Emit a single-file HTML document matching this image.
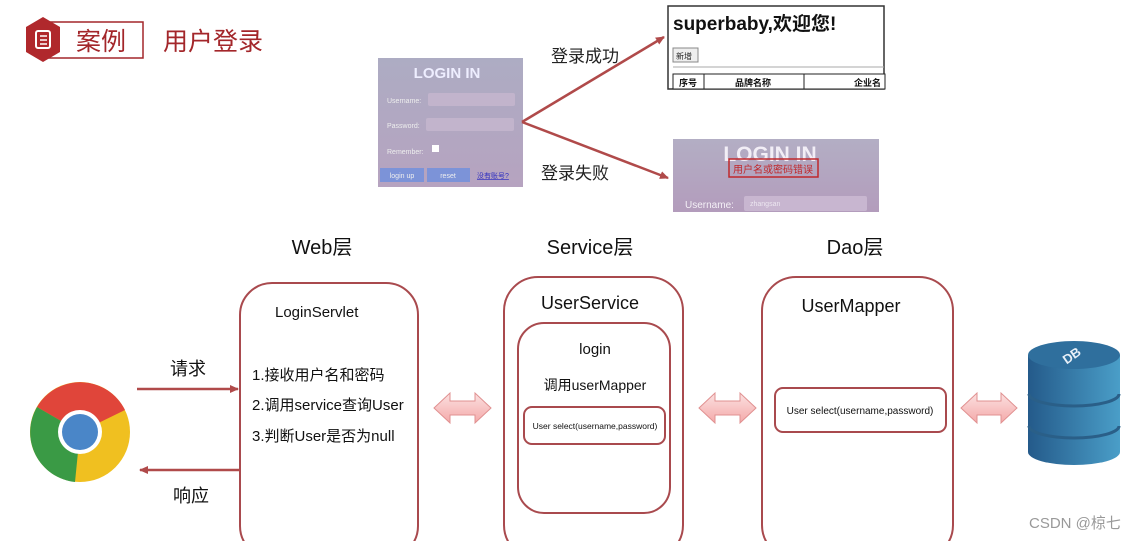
<!DOCTYPE html>
<html><head><meta charset="utf-8"><style>
html,body{margin:0;padding:0;background:#fff;width:1129px;height:541px;overflow:hidden}
svg{display:block;font-family:"Liberation Sans","Noto Sans CJK SC",sans-serif}
</style></head><body>
<svg width="1129" height="541" viewBox="0 0 1129 541" xmlns="http://www.w3.org/2000/svg">
<defs>
<linearGradient id="lg" x1="0" y1="0" x2="0" y2="1"><stop offset="0" stop-color="#adacc3"/><stop offset="1" stop-color="#b6a3c0"/></linearGradient>
<linearGradient id="lg2" x1="0" y1="0" x2="0" y2="1"><stop offset="0" stop-color="#b3aec4"/><stop offset="1" stop-color="#b39cbc"/></linearGradient>
<linearGradient id="pk" x1="0" y1="0" x2="0" y2="1"><stop offset="0" stop-color="#fbe1e1"/><stop offset="1" stop-color="#f4a9a9"/></linearGradient>
<linearGradient id="db" x1="0" y1="0" x2="1" y2="0"><stop offset="0" stop-color="#245a8a"/><stop offset="1" stop-color="#4a9ec8"/></linearGradient>
<marker id="ar" markerWidth="10" markerHeight="10" refX="8" refY="5" orient="auto" markerUnits="userSpaceOnUse"><path d="M0,1 L9,5 L0,9 Z" fill="#b04a4a"/></marker>
</defs>
<rect x="48" y="22" width="95" height="36" fill="#fff" stroke="#a3262a" stroke-width="1.5"/>
<polygon points="43,17 60,27 60,52 43,62 26,52 26,27" fill="#b0282c"/>
<rect x="36" y="31" width="14" height="17" rx="2" fill="none" stroke="#fff" stroke-width="2"/>
<line x1="40" y1="36" x2="47" y2="36" stroke="#fff" stroke-width="1.5"/><line x1="40" y1="40" x2="47" y2="40" stroke="#fff" stroke-width="1.5"/><line x1="40" y1="44" x2="47" y2="44" stroke="#fff" stroke-width="1.5"/>
<text x="76" y="50" font-size="25" fill="#a3262a">案例</text>
<text x="163" y="50" font-size="25" fill="#a3262a">用户登录</text>
<rect x="378" y="58" width="145" height="129" fill="url(#lg)"/>
<text x="447" y="78" font-size="15" font-weight="bold" fill="#eef" text-anchor="middle">LOGIN IN</text>
<text x="387" y="103" font-size="7" fill="#eee">Username:</text>
<rect x="428" y="93" width="87" height="13" rx="2" fill="#c2b4cc"/>
<text x="387" y="128" font-size="7" fill="#eee">Password:</text>
<rect x="426" y="118" width="88" height="13" rx="2" fill="#c2b4cc"/>
<text x="387" y="154" font-size="7" fill="#eee">Remember:</text>
<rect x="432" y="145" width="7" height="7" fill="#fff"/>
<rect x="380" y="168" width="44" height="14" fill="#7c93d8"/><text x="402" y="178" font-size="7" fill="#eee" text-anchor="middle">login up</text>
<rect x="427" y="168" width="43" height="14" fill="#7c93d8"/><text x="448" y="178" font-size="7" fill="#eee" text-anchor="middle">reset</text>
<text x="477" y="178" font-size="7" fill="#3030c0" text-decoration="underline">没有账号?</text>
<line x1="522" y1="122" x2="664" y2="37" stroke="#b04a4a" stroke-width="2.5" marker-end="url(#ar)"/>
<line x1="522" y1="122" x2="668" y2="178" stroke="#b04a4a" stroke-width="2.5" marker-end="url(#ar)"/>
<text x="551" y="62" font-size="17" fill="#222">登录成功</text>
<text x="541" y="179" font-size="17" fill="#222">登录失败</text>
<rect x="668" y="6" width="216" height="83" fill="#fff" stroke="#333" stroke-width="1.5"/>
<text x="673" y="30" font-size="19" font-weight="bold" fill="#111">superbaby,欢迎您!</text>
<rect x="673" y="48" width="25" height="14" fill="#eee" stroke="#888"/><text x="676" y="59" font-size="8" fill="#222">新增</text>
<line x1="673" y1="67" x2="884" y2="67" stroke="#aaa"/>
<rect x="673" y="74" width="212" height="15" fill="#fff" stroke="#222"/>
<line x1="704" y1="74" x2="704" y2="89" stroke="#222"/><line x1="804" y1="74" x2="804" y2="89" stroke="#222"/>
<text x="679" y="86" font-size="9" font-weight="bold" fill="#111">序号</text>
<text x="735" y="86" font-size="9" font-weight="bold" fill="#111">品牌名称</text>
<text x="854" y="86" font-size="9" font-weight="bold" fill="#111">企业名</text>
<rect x="673" y="139" width="206" height="73" fill="url(#lg2)"/>
<text x="770" y="161" font-size="21" font-weight="bold" fill="#f2eef6" text-anchor="middle">LOGIN IN</text>
<rect x="729" y="159" width="89" height="18" fill="none" stroke="#c0282c" stroke-width="1.5"/>
<text x="773" y="173" font-size="10" fill="#c0282c" text-anchor="middle">用户名或密码错误</text>
<text x="685" y="208" font-size="10" fill="#f4f0f6">Username:</text>
<rect x="744" y="196" width="123" height="15" rx="2" fill="#c8b6d0"/>
<text x="750" y="206" font-size="7" fill="#ece6f0">zhangsan</text>
<text x="322" y="254" font-size="20" fill="#111" text-anchor="middle">Web层</text>
<text x="590" y="254" font-size="20" fill="#111" text-anchor="middle">Service层</text>
<text x="855" y="254" font-size="20" fill="#111" text-anchor="middle">Dao层</text>
<rect x="240" y="283" width="178" height="275" rx="32" fill="#fff" stroke="#a94a4e" stroke-width="2"/>
<text x="275" y="317" font-size="15" fill="#111">LoginServlet</text>
<text x="252" y="380" font-size="15" fill="#111">1.接收用户名和密码</text>
<text x="252" y="410" font-size="15" fill="#111">2.调用service查询User</text>
<text x="252" y="441" font-size="15" fill="#111">3.判断User是否为null</text>
<rect x="504" y="277" width="179" height="282" rx="34" fill="#fff" stroke="#a94a4e" stroke-width="2"/>
<text x="590" y="309" font-size="18" fill="#111" text-anchor="middle">UserService</text>
<rect x="518" y="323" width="152" height="190" rx="26" fill="#fff" stroke="#a94a4e" stroke-width="2"/>
<text x="595" y="354" font-size="15" fill="#111" text-anchor="middle">login</text>
<text x="595" y="390" font-size="14" fill="#111" text-anchor="middle">调用userMapper</text>
<rect x="524" y="407" width="141" height="37" rx="8" fill="#fff" stroke="#a94a4e" stroke-width="2"/>
<text x="595" y="429" font-size="8.5" fill="#111" text-anchor="middle">User select(username,password)</text>
<rect x="762" y="277" width="191" height="282" rx="34" fill="#fff" stroke="#a94a4e" stroke-width="2"/>
<text x="851" y="312" font-size="18" fill="#111" text-anchor="middle">UserMapper</text>
<rect x="775" y="388" width="171" height="44" rx="8" fill="#fff" stroke="#a94a4e" stroke-width="2"/>
<text x="860" y="414" font-size="10" fill="#111" text-anchor="middle">User select(username,password)</text>
<g fill="url(#pk)" stroke="#e09090" stroke-width="1">
<polygon points="434,408 450,393 450,401 475,401 475,393 491,408 475,423 475,415 450,415 450,423"/>
<polygon points="699,408 715,393 715,401 740,401 740,393 756,408 740,423 740,415 715,415 715,423"/>
<polygon points="961,408 977,393 977,401 1001,401 1001,393 1017,408 1001,423 1001,415 977,415 977,423"/>
</g>
<path d="M1028,355 L1028,452 A46,13 0 0 0 1120,452 L1120,355 Z" fill="url(#db)"/>
<ellipse cx="1074" cy="355" rx="46" ry="14" fill="#2f6f9d"/>
<path d="M1029,394 A45,12 0 0 0 1119,394" fill="none" stroke="#2a5f88" stroke-width="3"/>
<path d="M1029,426 A45,12 0 0 0 1119,426" fill="none" stroke="#2a5f88" stroke-width="3"/>
<text x="1072" y="360" font-size="13" font-weight="bold" fill="#e8f0f8" text-anchor="middle" transform="rotate(-35 1072 356)">DB</text>
<g transform="translate(80,432)">
<circle r="50" fill="#f0c020"/>
<path d="M0,0 L-43,-25 A50,50 0 0 1 45,-22 Z" fill="#e0453a"/>
<path d="M0,0 L-43,-25 A50,50 0 0 0 -5,50 Z" fill="#3a9a45"/>
<circle r="22" fill="#fff"/><circle r="18" fill="#4a86c8"/>
</g>
<line x1="137" y1="389" x2="238" y2="389" stroke="#b04a4a" stroke-width="2.5" marker-end="url(#ar)"/>
<line x1="240" y1="470" x2="140" y2="470" stroke="#b04a4a" stroke-width="2.5" marker-end="url(#ar)"/>
<text x="170" y="375" font-size="18" fill="#111">请求</text>
<text x="173" y="502" font-size="18" fill="#111">响应</text>
<text x="1029" y="528" font-size="15" fill="#999">CSDN @椋七</text>
</svg>
</body></html>
